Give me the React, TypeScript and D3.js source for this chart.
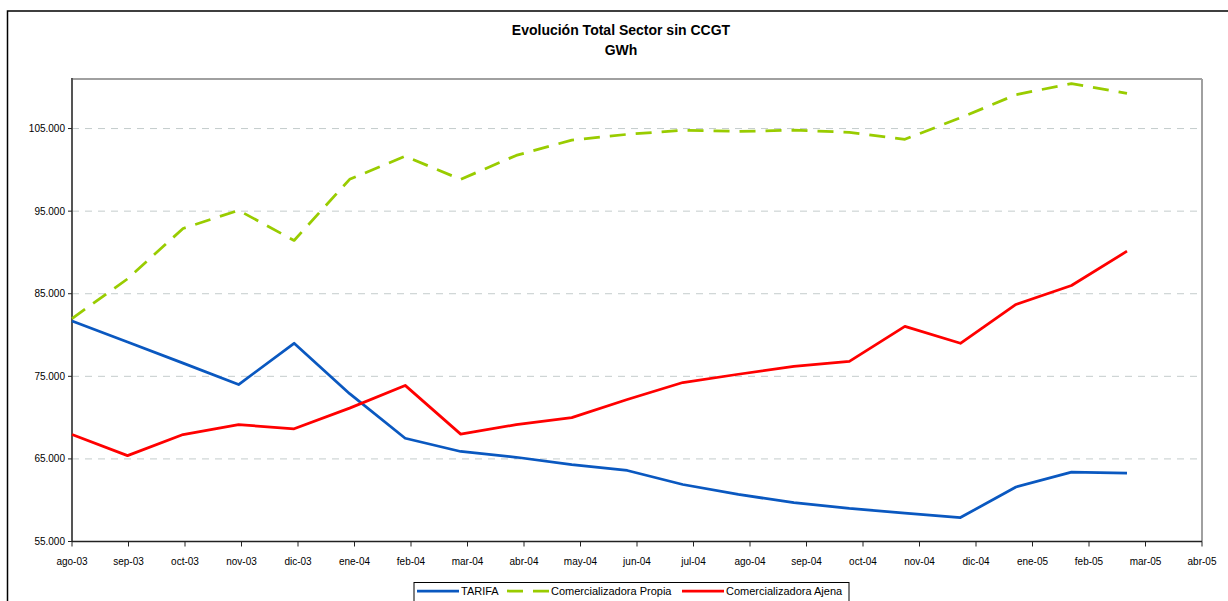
import React from "react";
import * as d3 from "d3";

const tickLabels = [
  "ago-03", "sep-03", "oct-03", "nov-03", "dic-03", "ene-04", "feb-04", "mar-04", "abr-04", "may-04",
  "jun-04", "jul-04", "ago-04", "sep-04", "oct-04", "nov-04", "dic-04", "ene-05", "feb-05", "mar-05", "abr-05",
];
const months = tickLabels.slice(0, 20);

const tarifa = [
  81700, 79150, 76600, 74000, 79000, 72900, 67500, 65900, 65200, 64300,
  63600, 61900, 60700, 59700, 59000, 58450, 57900, 61600, 63400, 63280,
];
const propia = [
  82000, 86800, 92900, 95100, 91450, 98850, 101650, 98850, 101750, 103600,
  104300, 104800, 104650, 104800, 104550, 103700, 106300, 109100, 110450, 109250,
];
const ajena = [
  67950, 65400, 67950, 69150, 68650, 71150, 73900, 68000, 69150, 70000,
  72200, 74250, 75250, 76200, 76800, 81050, 79000, 83700, 86000, 90150,
];
const yTicks = [55000, 65000, 75000, 85000, 95000, 105000];

const series = [
  { name: "TARIFA", values: tarifa, color: "#0A58C0", dash: null as string | null },
  { name: "Comercializadora Propia", values: propia, color: "#99CC00", dash: "16,10" },
  { name: "Comercializadora Ajena", values: ajena, color: "#FF0000", dash: null as string | null },
];

const FONT = "'Liberation Sans', Arial, Helvetica, sans-serif";
const W = 1228;
const H = 601;
const plot = { left: 72, right: 1202, top: 79, bottom: 541.5 };
const dataRight = 1127;

const locale = d3.formatLocale({ decimal: ",", thousands: ".", grouping: [3], currency: ["", "€"] });
const fmt = locale.format(",.0f");

export default function App() {
  const xTick = d3.scalePoint<string>().domain(tickLabels).range([plot.left, plot.right]);
  const xData = d3.scalePoint<string>().domain(months).range([plot.left, dataRight]);
  const y = d3.scaleLinear().domain([55000, 111000]).range([plot.bottom, plot.top]);

  const line = d3
    .line<number>()
    .x((_, i) => xData(months[i]) as number)
    .y((d) => y(d));

  const legendItems = [
    { s: series[0], x1: 417, x2: 459, tx: 461 },
    { s: series[1], x1: 507, x2: 549, tx: 551 },
    { s: series[2], x1: 682, x2: 724, tx: 726 },
  ];

  return (
    <svg
      width={W}
      height={H}
      style={{ position: "absolute", left: 0, top: 0, background: "#fff" }}
      fontFamily={FONT}
    >
      <rect x={0} y={0} width={W} height={H} fill="#fff" />
      {/* outer chart border */}
      <rect x={7.5} y={11} width={W + 20} height={H + 20} fill="none" stroke="#000" strokeWidth={1.5} />

      {/* title */}
      <text x={621} y={35} textAnchor="middle" fontSize={14} fontWeight="bold" fill="#000">
        Evolución Total Sector sin CCGT
      </text>
      <text x={621} y={55} textAnchor="middle" fontSize={14} fontWeight="bold" fill="#000">
        GWh
      </text>

      {/* gridlines */}
      {yTicks.slice(1).map((t) => (
        <line
          key={"g" + t}
          x1={plot.left}
          x2={plot.right}
          y1={y(t)}
          y2={y(t)}
          stroke="#C4CCCC"
          strokeWidth={1}
          strokeDasharray="7,6"
        />
      ))}

      {/* plot frame */}
      <line x1={plot.left} x2={plot.right} y1={plot.top} y2={plot.top} stroke="#A0A0A0" strokeWidth={2} />
      <line x1={plot.right} x2={plot.right} y1={plot.top} y2={plot.bottom} stroke="#A0A0A0" strokeWidth={2} />
      <line x1={plot.left} x2={plot.left} y1={plot.top - 1} y2={plot.bottom} stroke="#555" strokeWidth={2} />
      <line x1={plot.left} x2={plot.right} y1={plot.bottom} y2={plot.bottom} stroke="#222" strokeWidth={1.5} />

      {/* y axis ticks & labels */}
      {yTicks.map((t) => (
        <g key={"y" + t}>
          <line x1={plot.left - 4} x2={plot.left} y1={y(t)} y2={y(t)} stroke="#222" strokeWidth={1} />
          <text x={65} y={y(t)} dy="0.35em" textAnchor="end" fontSize={10} fill="#000">
            {fmt(t)}
          </text>
        </g>
      ))}

      {/* x axis ticks & labels */}
      {tickLabels.map((m) => (
        <g key={"x" + m}>
          <line
            x1={xTick(m)}
            x2={xTick(m)}
            y1={plot.bottom}
            y2={plot.bottom + 5}
            stroke="#222"
            strokeWidth={1}
          />
          <text x={xTick(m)} y={565} textAnchor="middle" fontSize={10} fill="#000">
            {m}
          </text>
        </g>
      ))}

      {/* series */}
      {series.map((s) => (
        <path
          key={s.name}
          d={line(s.values) || ""}
          fill="none"
          stroke={s.color}
          strokeWidth={2.75}
          strokeDasharray={s.dash || undefined}
          strokeLinejoin="round"
        />
      ))}

      {/* legend */}
      <rect x={414} y={582.5} width={435} height={30} fill="#fff" stroke="#000" strokeWidth={1} />
      {legendItems.map((it) => (
        <g key={"l" + it.s.name}>
          <line
            x1={it.x1}
            x2={it.x2}
            y1={591}
            y2={591}
            stroke={it.s.color}
            strokeWidth={2.75}
            strokeDasharray={it.s.dash || undefined}
          />
          <text x={it.tx} y={591} dy="0.35em" fontSize={11} fill="#000">
            {it.s.name}
          </text>
        </g>
      ))}
    </svg>
  );
}
